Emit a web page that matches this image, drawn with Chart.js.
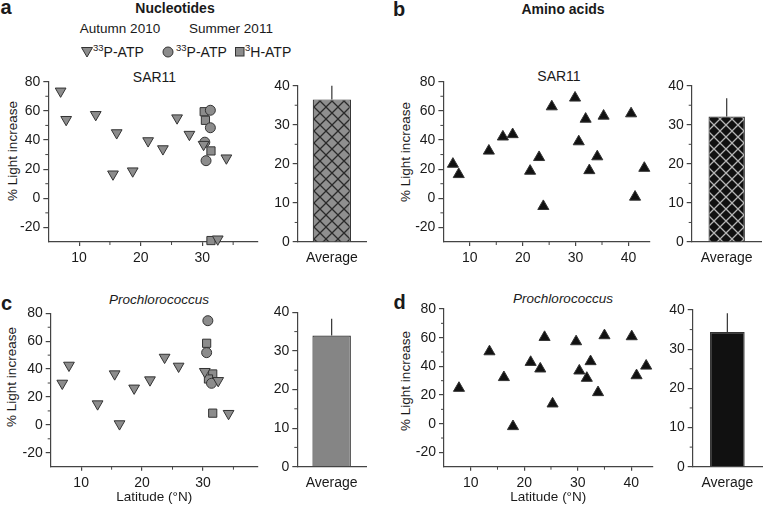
<!DOCTYPE html>
<html>
<head>
<meta charset="utf-8">
<script src="https://cdn.jsdelivr.net/npm/chart.js@4"></script>
<style>
html, body { margin: 0; padding: 0; overflow: hidden; background: #fff; }
#fig { position: relative; width: 763px; height: 511px; font-family: "Liberation Sans", Arial, sans-serif; color: #1a1a1a; }
#fig canvas { position: absolute; }
.t { position: absolute; transform: translate(-50%, -50%); white-space: nowrap; font-size: 14px; }
.l { position: absolute; transform: translateY(-50%); white-space: nowrap; font-size: 14px; }
.yt { position: absolute; transform: translate(-50%, -50%) rotate(-90deg); white-space: nowrap; font-size: 13.5px; }
.lt { font-weight: bold; font-size: 20px; }
.l sup { font-size: 9.5px; }
svg { position: absolute; }
</style>
</head>
<body>
<div id="fig">
  <div class="t lt" style="left:6px;top:7px">a</div>
  <div class="t lt" style="left:399px;top:9px">b</div>
  <div class="t lt" style="left:6.5px;top:303px">c</div>
  <div class="t lt" style="left:399.5px;top:302px">d</div>

  <div class="t" style="left:175px;top:8px;font-weight:bold">Nucleotides</div>
  <div class="t" style="left:563px;top:9px;font-weight:bold">Amino acids</div>
  <div class="t" style="left:120px;top:28px;font-size:13.5px">Autumn 2010</div>
  <div class="t" style="left:231px;top:28px;font-size:13.5px">Summer 2011</div>

  <svg width="14" height="12" style="left:80px;top:46px"><polygon points="1.5,1.5 12.5,1.5 7,11" fill="#8c8c8c" stroke="#333" stroke-width="1"/></svg>
  <div class="l" style="left:93px;top:51px"><sup>33</sup>P-ATP</div>
  <svg width="12" height="12" style="left:162px;top:45.5px"><circle cx="6" cy="6" r="5" fill="#8c8c8c" stroke="#333" stroke-width="1"/></svg>
  <div class="l" style="left:176px;top:51px"><sup>33</sup>P-ATP</div>
  <svg width="10" height="10" style="left:235px;top:47px"><rect x="0.5" y="0.5" width="8.5" height="8.5" fill="#8c8c8c" stroke="#333" stroke-width="1"/></svg>
  <div class="l" style="left:245px;top:51px"><sup>3</sup>H-ATP</div>

  <div class="t" style="left:154.5px;top:77px">SAR11</div>
  <div class="t" style="left:559px;top:76px">SAR11</div>
  <div class="t" style="left:159px;top:299px;font-style:italic;font-size:13.5px">Prochlorococcus</div>
  <div class="t" style="left:563px;top:298px;font-style:italic;font-size:13.5px">Prochlorococcus</div>

  <div class="yt" style="left:11.7px;top:151px">% Light increase</div>
  <div class="yt" style="left:405px;top:152px">% Light increase</div>
  <div class="yt" style="left:10.5px;top:377px">% Light increase</div>
  <div class="yt" style="left:405px;top:381px">% Light increase</div>

  <canvas id="sa"></canvas><canvas id="ba"></canvas>
  <canvas id="sb"></canvas><canvas id="bb"></canvas>
  <canvas id="sc"></canvas><canvas id="bc"></canvas>
  <canvas id="sd"></canvas><canvas id="bd"></canvas>
</div>

<script>
// ---- values ----

// a: nucleotides, SAR11
const aAutLat = [7.0, 7.9, 12.7, 16.1, 15.5, 18.7, 21.2, 23.6, 25.9, 27.9, 30.2, 33.9, 32.5];
const aAutVal = [73.5, 54.0, 57.4, 44.9, 16.6, 18.7, 39.4, 33.9, 55.1, 43.8, 36.9, 27.6, -28];
const aSumPLat = [31.3, 31.3, 30.4, 30.6];
const aSumPVal = [60.4, 48.4, 38.5, 25.8];
const aSumHLat = [30.3, 30.5, 31.4, 31.4];
const aSumHVal = [59.4, 53.5, 32.5, -29];

// b: amino acids, SAR11
const bLat = [6.8, 7.9, 13.6, 16.25, 18.1, 21.4, 23.1, 23.9, 25.5, 29.9, 30.6, 31.9, 32.6, 34.1, 35.3, 40.5, 41.25, 43.0];
const bVal = [23.5, 16.4, 32.5, 42.2, 43.8, 18.7, 28.1, -5.5, 62.9, 68.9, 38.9, 54.4, 19.1, 28.6, 56.5, 58.1, 0.9, 20.7];

// c: nucleotides, Prochlorococcus
const cAutLat = [6.9, 8.0, 12.7, 15.5, 16.3, 18.7, 21.3, 23.7, 26.0, 30.3, 32.5, 34.2];
const cAutVal = [29.8, 42.7, 15.0, 36.5, 0.7, 26.3, 32.2, 48.4, 42.0, 38.2, 31.7, 8.1];
const cSumPLat = [30.8, 30.6, 31.4];
const cSumPVal = [74.7, 51.8, 29.8];
const cSumHLat = [30.6, 31.6, 30.9, 31.6];
const cSumHVal = [58.5, 36.5, 32.9, 8.4];

// d: amino acids, Prochlorococcus
const dLat = [7.8, 13.5, 16.2, 17.9, 21.2, 23.0, 23.8, 25.3, 29.7, 30.3, 31.7, 32.4, 33.8, 35.0, 40.1, 41.0, 42.8];
const dVal = [24.8, 50.3, 32.3, -1.9, 42.9, 38.3, 60.3, 13.9, 57.3, 36.9, 31.8, 43.4, 21.8, 61.5, 60.8, 33.6, 40.3];

// averages (a, b, c, d) and their upper error
const avgLabels = ['Average'];
const avgVals = [36.5, 32.1, 34.0, 34.4];
const avgErrs = [3.5, 4.7, 4.3, 4.8];

// ticks
const yTicksScatter = [-20, 0, 20, 40, 60, 80];
const yMinorScatter = [-10, 10, 30, 50, 70];
const yTicksBar = [0, 10, 20, 30, 40];
const yMinorBar = [5, 15, 25, 35];
const xTicksAC = [10, 20, 30];
const xTicksBD = [10, 20, 30, 40];
const xMinor = [15, 25, 35];

// ---- drawing ----
Chart.defaults.font.family = '"Liberation Sans", Arial, sans-serif';
Chart.defaults.font.size = 14;
Chart.defaults.color = '#1a1a1a';
const AX = '#444';

// short minor ticks, outside the axes
const minorTicks = {
  id: 'minorTicks',
  afterDraw(chart, args, o) {
    const { ctx, chartArea: a, scales } = chart;
    ctx.save();
    ctx.strokeStyle = AX;
    ctx.lineWidth = 1;
    (o.x || []).forEach(v => {
      const p = scales.x.getPixelForValue(v);
      ctx.beginPath(); ctx.moveTo(p, a.bottom); ctx.lineTo(p, a.bottom + 3); ctx.stroke();
    });
    (o.y || []).forEach(v => {
      const p = scales.y.getPixelForValue(v);
      ctx.beginPath(); ctx.moveTo(a.left, p); ctx.lineTo(a.left - 3, p); ctx.stroke();
    });
    ctx.restore();
  }
};

// upper error line on top of each bar
const errBars = {
  id: 'errBars',
  afterDatasetsDraw(chart) {
    const ds = chart.data.datasets[0];
    const y = chart.scales.y, ctx = chart.ctx;
    ctx.save();
    ctx.strokeStyle = '#333';
    ctx.lineWidth = 1.2;
    chart.getDatasetMeta(0).data.forEach((bar, i) => {
      const top = y.getPixelForValue(ds.data[i] + ds.errors[i]);
      ctx.beginPath(); ctx.moveTo(bar.x, bar.y); ctx.lineTo(bar.x, top); ctx.stroke();
    });
    ctx.restore();
  }
};

function hatch(bg, fg) {
  const c = document.createElement('canvas');
  c.width = c.height = 12;
  const g = c.getContext('2d');
  g.fillStyle = bg; g.fillRect(0, 0, 12, 12);
  g.strokeStyle = fg; g.lineWidth = 1.3;
  g.beginPath();
  g.moveTo(-1, -1); g.lineTo(13, 13);
  g.moveTo(-1, 13); g.lineTo(13, -1);
  g.stroke();
  return g.createPattern(c, 'repeat');
}

// size and place a canvas so that its plot area lands on `area`
function place(id, area, yW, xH) {
  const cv = document.getElementById(id);
  const left = Math.floor(area.l - yW - 3), top = Math.floor(area.t - 14);
  const right = Math.ceil(area.r + 5), bottom = Math.ceil(area.b + xH + 3);
  cv.width = right - left; cv.height = bottom - top;
  cv.style.left = left + 'px'; cv.style.top = top + 'px';
  return { left: area.l - yW - left, top: area.t - top, right: right - area.r, bottom: bottom - area.b - xH };
}

function linAxis(min, max, ticks, o) {
  return {
    type: 'linear', min: min, max: max,
    border: { display: true, color: AX, width: 1.2 },
    grid: { display: true, drawOnChartArea: false, drawTicks: true, tickLength: o.tl, color: AX, lineWidth: 1.2 },
    ticks: { padding: o.pad, color: '#1a1a1a' },
    afterBuildTicks: s => { s.ticks = ticks.map(v => ({ value: v })); },
    afterFit: s => { if (o.w) s.width = o.w; if (o.h) s.height = o.h; },
    title: { display: !!o.title, text: o.title || '', color: '#1a1a1a', font: { size: 13.5 }, padding: 0 }
  };
}

function pts(xs, ys) { return xs.map((x, i) => ({ x: x, y: ys[i] })); }

function marks(xs, ys, style, r, fill, rot) {
  return {
    data: pts(xs, ys), pointStyle: style, pointRadius: r, pointRotation: rot || 0,
    pointBackgroundColor: fill, pointBorderColor: '#333', pointBorderWidth: 1, clip: false
  };
}

function scatter(id, area, xr, xTicks, sets, xTitle) {
  const xH = xTitle ? 39 : 24;
  const pad = place(id, area, 32, xH);
  new Chart(document.getElementById(id), {
    type: 'scatter',
    data: { datasets: sets },
    options: {
      responsive: false, animation: false, events: [],
      layout: { padding: pad },
      plugins: { legend: { display: false }, tooltip: { enabled: false }, minorTicks: { x: xMinor, y: yMinorScatter } },
      scales: {
        x: linAxis(xr[0], xr[1], xTicks, { tl: 4, pad: 4, h: xH, title: xTitle }),
        y: linAxis(-30, 80, yTicksScatter, { tl: 5, pad: 3, w: 32 })
      }
    },
    plugins: [minorTicks]
  });
}

function avgBar(id, area, i, fill, pct) {
  const pad = place(id, area, 28, 24);
  new Chart(document.getElementById(id), {
    type: 'bar',
    data: {
      labels: avgLabels,
      datasets: [{ data: [avgVals[i]], errors: [avgErrs[i]], backgroundColor: fill, borderColor: '#333',
                   borderWidth: 1.2, barPercentage: pct, categoryPercentage: 1 }]
    },
    options: {
      responsive: false, animation: false, events: [],
      layout: { padding: pad },
      plugins: { legend: { display: false }, tooltip: { enabled: false }, minorTicks: { y: yMinorBar } },
      scales: {
        x: {
          border: { display: true, color: AX, width: 1.2 },
          grid: { display: true, drawOnChartArea: false, drawTicks: true, tickLength: 4, color: 'transparent' },
          ticks: { padding: 4, color: '#1a1a1a' },
          afterFit: s => { s.height = 24; }
        },
        y: linAxis(0, 40, yTicksBar, { tl: 5, pad: 3, w: 28 })
      }
    },
    plugins: [minorTicks, errBars]
  });
}

const G = '#8c8c8c', K = '#111';

scatter('sa', { l: 48.3, t: 81.7, r: 259.1, b: 242 }, [5, 39], xTicksAC, [
  marks(aAutLat, aAutVal, 'triangle', 6.2, G, 180),
  marks(aSumPLat, aSumPVal, 'circle', 5, G),
  marks(aSumHLat, aSumHVal, 'rect', 5.8, G)
]);
scatter('sb', { l: 443.4, t: 81.7, r: 652, b: 242 }, [5, 44], xTicksBD, [
  marks(bLat, bVal, 'triangle', 6.4, K)
]);
scatter('sc', { l: 50.7, t: 313.3, r: 259.3, b: 466.7 }, [5, 39], xTicksAC, [
  marks(cAutLat, cAutVal, 'triangle', 6.2, G, 180),
  marks(cSumPLat, cSumPVal, 'circle', 5, G),
  marks(cSumHLat, cSumHVal, 'rect', 5.8, G)
], 'Latitude (°N)');
scatter('sd', { l: 444, t: 309, r: 655, b: 466.7 }, [5, 44], xTicksBD, [
  marks(dLat, dVal, 'triangle', 6.4, K)
], 'Latitude (°N)');

avgBar('ba', { l: 297.7, t: 85.7, r: 366, b: 242 }, 0, hatch('#8f8f8f', '#2a2a2a'), 0.56);
avgBar('bb', { l: 691.7, t: 85.7, r: 761.7, b: 242 }, 1, hatch('#111', '#b5b5b5'), 0.52);
avgBar('bc', { l: 297.3, t: 312.3, r: 366, b: 466.7 }, 2, '#858585', 0.56);
avgBar('bd', { l: 692.7, t: 310, r: 762, b: 466.7 }, 3, K, 0.5);
</script>
</body>
</html>
